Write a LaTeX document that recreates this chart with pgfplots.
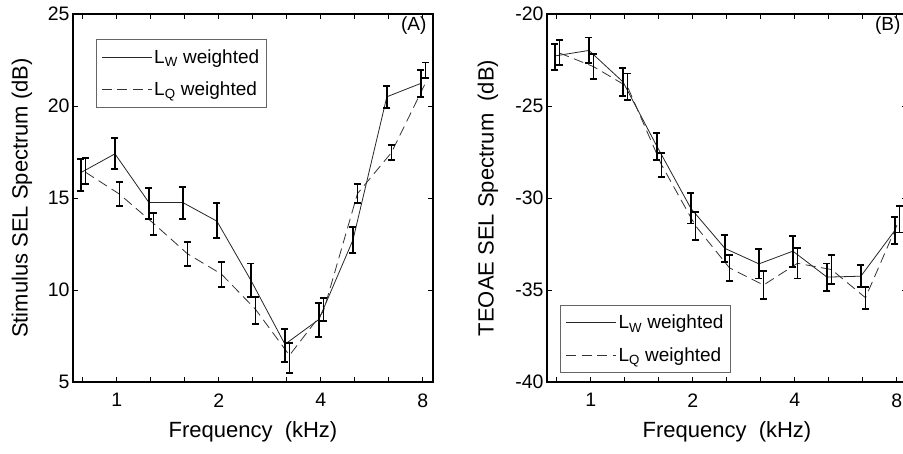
\documentclass[border=0pt]{standalone}
\usepackage{pgfplots}
\pgfplotsset{compat=1.18}
\usepackage{pgfplotstable}
\usepackage{fontspec}
\setmainfont{Liberation Sans}

% x: frequency (kHz, small offset per series), y: line value, yc: error bar centre, e: half range
\pgfplotstableread{
x      y      yc     e
0.784  16.38  16.25  0.85
0.988  17.40  17.41  0.83
1.245  14.75  14.71  0.85
1.568  14.75  14.72  0.88
1.976  13.74  13.76  0.95
2.490  10.52  10.54  0.90
3.137  7.05   6.98   0.88
3.952  8.40   8.37   0.91
4.980  12.72  12.72  0.72
6.270  20.50  20.50  0.60
7.904  21.23  21.23  0.73
}\AW
\pgfplotstableread{
x      y      yc     e
0.809  16.40  16.46  0.70
1.019  15.21  15.21  0.64
1.284  13.62  13.60  0.60
1.617  11.97  11.97  0.66
2.038  10.86  10.86  0.68
2.568  8.95   8.90   0.74
3.235  6.45   6.30   0.80
4.076  8.85   8.95   0.63
5.136  15.24  15.24  0.50
6.470  17.47  17.47  0.40
8.152  21.25  21.93  0.43
}\AQ
\pgfplotstableread{
x      y       yc      e
0.784  -22.28  -22.34  0.71
0.988  -21.98  -21.98  0.70
1.245  -23.69  -23.69  0.77
1.568  -27.19  -27.19  0.74
1.976  -30.57  -30.57  0.82
2.490  -32.74  -32.74  0.72
3.137  -33.58  -33.58  0.79
3.952  -32.89  -32.89  0.84
4.980  -34.30  -34.30  0.74
6.270  -34.25  -34.25  0.60
7.904  -31.76  -31.76  0.74
}\BW
\pgfplotstableread{
x      y       yc      e
0.809  -22.12  -22.09  0.68
1.019  -22.86  -22.86  0.67
1.284  -23.95  -23.95  0.72
1.617  -28.19  -28.19  0.65
2.038  -31.51  -31.51  0.77
2.568  -33.80  -33.80  0.70
3.235  -34.73  -34.73  0.78
4.076  -33.55  -33.55  0.82
5.136  -33.89  -33.89  0.79
6.470  -35.42  -35.42  0.60
8.152  -31.16  -31.16  0.72
}\BQ

\pgfplotsset{
  panel/.style={
    scale only axis, width=360pt, height=368pt,
    xtick={1,2,4,8}, xticklabels={1,2,4,8},
    minor xtick={0.7937,1.2599,1.5874,2.5198,3.1748,5.0397,6.3496},
    tick align=inside,
    major tick length=5pt, minor tick length=5pt,
    every tick/.style={black, line width=0.9pt},
    every minor tick/.style={black, line width=0.9pt},
    axis line style={line width=1.3pt},
    ticklabel style={font=\fontsize{19.5}{22}\selectfont},
    xticklabel style={yshift=-8pt},
    label style={font=\fontsize{22}{26}\selectfont},
    xlabel={Frequency\ \ (kHz)},
    xlabel style={at={(axis description cs:0.5,-0.136)}, anchor=center},
    legend style={draw=black!60, line width=0.8pt,
      font=\fontsize{19}{22}\selectfont,
      inner xsep=5pt, inner ysep=8pt, row sep=13pt,
      cells={anchor=west}},
  },
  wline/.style={black!85, line width=0.8pt,
    legend image code/.code={\draw[##1] (0pt,0pt) -- (50pt,0pt);}},
  qline/.style={black!80, line width=0.8pt, dash pattern=on 10pt off 5.5pt,
    legend image code/.code={\draw[##1] (0pt,0pt) -- (50pt,0pt);}},
  bars/.style={forget plot, draw=none, mark=none,
    error bars/.cd, y dir=both, y explicit,
    error bar style={draw=black, solid, line width=1.8pt},
    error mark=-,
    error mark options={draw=black, solid, rotate=90, line width=1.8pt, mark size=3.5pt}},
}

\begin{document}
\begin{tikzpicture}
\useasboundingbox (-73pt,-72pt) rectangle (830pt,382pt);

\begin{axis}[xmode=log, xmin=0.743, xmax=8.58, panel, at={(0pt,0pt)},
  ymin=5, ymax=25, ytick={5,10,15,20,25}, yticklabels={5,10,15,20,25},
  ylabel={Stimulus SEL Spectrum (dB)},
  ylabel style={at={(axis description cs:-0.142,0.5)}, anchor=center},
  legend style={at={(0.064,0.932)}, anchor=north west}]
\addplot[wline] table[x=x, y=y] {\AW};
\addlegendentry{L\textsubscript{W} weighted}
\addplot[qline] table[x=x, y=y] {\AQ};
\addlegendentry{L\textsubscript{Q} weighted}
\addplot[bars] table[x=x, y=yc, y error=e] {\AW};
\addplot[bars] table[x=x, y=yc, y error=e] {\AQ};
\node[anchor=north east, inner sep=1pt, font=\fontsize{19}{20}\selectfont]
  at (rel axis cs:0.985,0.995) {(A)};
\end{axis}

\begin{axis}[xmode=log, xmin=0.743, xmax=8.58, panel, at={(474pt,0pt)},
  ymin=-40, ymax=-20, ytick={-40,-35,-30,-25,-20},
  yticklabels={-40,-35,-30,-25,-20},
  ylabel={TEOAE SEL Spectrum\ \ (dB)},
  ylabel style={at={(axis description cs:-0.164,0.5)}, anchor=center},
  legend style={at={(0.037,0.024)}, anchor=south west}]
\addplot[wline] table[x=x, y=y] {\BW};
\addlegendentry{L\textsubscript{W} weighted}
\addplot[qline] table[x=x, y=y] {\BQ};
\addlegendentry{L\textsubscript{Q} weighted}
\addplot[bars] table[x=x, y=yc, y error=e] {\BW};
\addplot[bars] table[x=x, y=yc, y error=e] {\BQ};
\node[anchor=north east, inner sep=1pt, font=\fontsize{19}{20}\selectfont]
  at (rel axis cs:0.985,0.995) {(B)};
\end{axis}
\end{tikzpicture}
\end{document}
